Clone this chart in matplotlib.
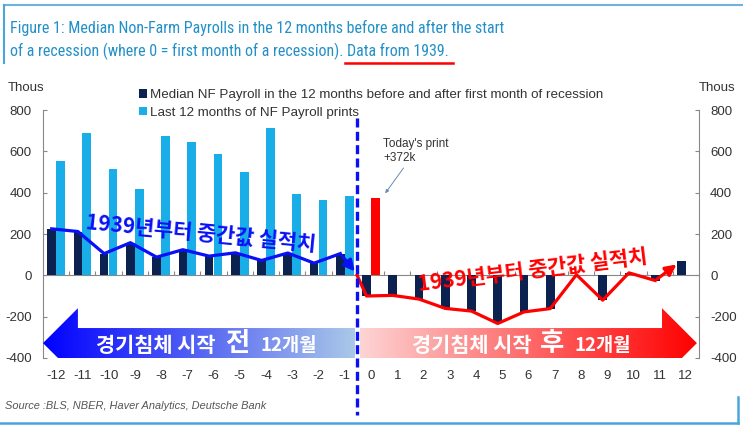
import matplotlib.pyplot as plt
import numpy as np
from matplotlib.lines import Line2D
from matplotlib.patches import Polygon
from matplotlib.colors import to_rgb

# months relative to the first month of a recession
months = np.arange(-12, 13)
# median non-farm payroll change (thousands) from 1939
median_nfp = [225, 212, 105, 158, 88, 124, 93, 109, 72, 108, 59, 105,
              -100, -97, -115, -160, -173, -233, -177, -161, 3, -120, 12, -25, 69]
# last 12 prints before "today"
last_months = np.arange(-12, 0)
last_prints = [555, 690, 515, 420, 675, 645, 588, 502, 712, 395, 366, 382]
today_month = 0
today_print = 372

navy = '#0b2150'
sky = '#19aee8'
red = '#ff0000'
blue = '#0a10f5'
grey = '#333333'

plt.rcParams['font.family'] = ['Liberation Sans', 'DejaVu Sans']
plt.rcParams['axes.unicode_minus'] = False
kr = ['Noto Sans CJK KR', 'DejaVu Sans']

fig = plt.figure(figsize=(7.43, 4.28), dpi=100)
W, H = 743, 428
ax = fig.add_axes([43 / W, 1 - 358 / H, 656 / W, 248 / H])

# bars
off, bw = 0.17, 0.33
ax.bar(months - off, median_nfp, width=bw, color=navy, zorder=3,
       label='Median NF Payroll in the 12 months before and after first month of recession')
ax.bar(last_months + off, last_prints, width=bw, color=sky, zorder=3,
       label='Last 12 months of NF Payroll prints')
ax.bar(today_month + off, today_print, width=bw, color=red, zorder=3)

ax.set_xlim(-12.5, 12.5)
ax.set_ylim(-400, 800)
ax.set_yticks(range(-400, 801, 200))

ax.spines['top'].set_visible(False)
for s in ['left', 'right', 'bottom']:
    ax.spines[s].set_color('#888888')
ax.spines['bottom'].set_position(('data', 0))
ax.set_xticks(np.arange(-11.5, 12.5, 1))
ax.tick_params(axis='x', direction='in', length=3, color='#888888', labelbottom=False)
ax.tick_params(axis='y', direction='in', length=3, color='#888888', labelsize=9.5,
               labelcolor=grey, right=True, labelright=True, pad=8)

# month labels under the axis
for m in months:
    ax.text(m, -487, str(m), ha='center', va='center', fontsize=9.5, color=grey, clip_on=False)

fig.text(8 / W, 1 - 88 / H, 'Thous', fontsize=9.5, color=grey, va='center', ha='left')
fig.text(699 / W, 1 - 88 / H, 'Thous', fontsize=9.5, color=grey, va='center', ha='left')

# hand-drawn style median lines
pre = [v for m, v in zip(months, median_nfp) if m < 0]
post = [v for m, v in zip(months, median_nfp) if m >= 0]
pre_x = months[months < 0] - off
post_x = months[months >= 0] - off
ax.plot(pre_x, pre, color=blue, lw=2.3, zorder=5)
ax.annotate('', xy=(-0.55, 8), xytext=(pre_x[-1], pre[-1]),
            arrowprops=dict(arrowstyle='-|>', color=blue, lw=2.3, mutation_scale=16), zorder=5)
ax.plot(np.r_[-0.53, post_x[:-1]], np.r_[0, post[:-1]], color=red, lw=2.3, zorder=5)
ax.annotate('', xy=(post_x[-1] - 0.1, post[-1] - 8), xytext=(post_x[-2], post[-2]),
            arrowprops=dict(arrowstyle='-|>', color=red, lw=2.3, mutation_scale=16), zorder=5)

ax.text(-6.5, 205, '1939년부터 중간값 실적치', family=kr, fontsize=15, fontweight='bold',
        color=blue, rotation=-5.5, ha='center', va='center', zorder=6,
        rotation_mode='anchor')
ax.text(6.15, 22, '1939년부터 중간값 실적치', family=kr, fontsize=15, fontweight='bold',
        color=red, rotation=7, ha='center', va='center', zorder=6,
        rotation_mode='anchor')

# today's print callout
ax.text(0.46, 602, "Today's print\n+372k", fontsize=8.5, color=grey, ha='left', va='center',
        linespacing=1.2)
ax.annotate('', xy=(0.48, 386), xytext=(1.3, 530),
            arrowprops=dict(arrowstyle='-|>', color='#6a8cb0', lw=0.7, mutation_scale=5))

# recession start marker
ax.plot([-0.53, -0.53], [760, -675], color=blue, lw=2.4, linestyle=(0, (2.7, 1.3)),
        zorder=7, clip_on=False)


def grad_arrow(pts, c0, c1, x0, x1):
    poly = Polygon(pts, closed=True, transform=ax.transData, facecolor='none', edgecolor='none')
    cols = np.array([to_rgb(c0), to_rgb(c1)])
    t = np.linspace(0, 1, 256)[:, None]
    img = (cols[0] * (1 - t) + cols[1] * t)[None, :, :]
    im = ax.imshow(img, extent=[x0, x1, -500, -155], aspect='auto', zorder=8,
                   interpolation='bilinear')
    im.set_clip_path(poly)
    im.set_clip_box(None)


yb0, yb1, yh0, yh1, ytip = -255, -405, -159, -496, -328
grad_arrow([(-12.5, ytip), (-11.17, yh0), (-11.17, yb0), (-0.61, yb0), (-0.61, yb1),
            (-11.17, yb1), (-11.17, yh1)], '#0000ff', '#aac8e8', -12.5, -0.61)
grad_arrow([(-0.42, yb0), (11.09, yb0), (11.09, yh0), (12.42, ytip), (11.09, yh1),
            (11.09, yb1), (-0.42, yb1)], '#fdd4d4', '#ff0000', -0.42, 12.42)
ax.set_xlim(-12.5, 12.5)
ax.set_ylim(-400, 800)

for x_left, x_mid, x_right, word in [(-5.94, -5.1, -4.23, '전'), (6.13, 6.9, 7.77, '후')]:
    ax.text(x_left, -338, '경기침체 시작', family=kr, fontsize=15, fontweight='bold',
            color='white', ha='right', va='center', zorder=9)
    ax.text(x_mid, -330, word, family=kr, fontsize=19, fontweight='bold',
            color='white', ha='center', va='center', zorder=9)
    ax.text(x_right, -338, '12개월', family=kr, fontsize=13.5, fontweight='bold',
            color='white', ha='left', va='center', zorder=9)

# legend
fig.legend(loc='upper left', bbox_to_anchor=(139 / W, 1 - 89 / H), frameon=False,
           fontsize=9.6, handlelength=0.6, handleheight=0.6, handletextpad=0.2,
           labelspacing=0.42, borderpad=0, borderaxespad=0, labelcolor=grey)

# title
title_c = '#2390c8'
tfont = ['Roboto Condensed', 'Archivo Narrow', 'Roboto']
fig.text(10 / W, 1 - 28 / H,
         'Figure 1: Median Non-Farm Payrolls in the 12 months before and after the start',
         family=tfont, fontsize=11.5, color=title_c, va='center', ha='left')
fig.text(10 / W, 1 - 51 / H,
         'of a recession (where 0 = first month of a recession). Data from 1939.',
         family=tfont, fontsize=11.5, color=title_c, va='center', ha='left')
fig.add_artist(Line2D([345 / W, 453 / W], [1 - 63 / H, 1 - 63 / H], color=red, lw=1.8))

fig.text(5 / W, 1 - 406 / H, 'Source :BLS, NBER, Haver Analytics, Deutsche Bank',
         fontsize=7.9, style='italic', color='#555555', va='center')

# frame lines
frame_c = '#4aa6da'
fig.add_artist(Line2D([4 / W, 1], [1 - 5 / H, 1 - 5 / H], color='#6fb3dc', lw=1.5))
fig.add_artist(Line2D([4 / W, 4 / W], [1 - 5 / H, 1 - 63 / H], color=frame_c, lw=1.5))
fig.add_artist(Line2D([0, 738 / W], [1 - 423 / H, 1 - 423 / H], color=frame_c, lw=1.8))
fig.add_artist(Line2D([738 / W, 738 / W], [1 - 397 / H, 1 - 423 / H], color=frame_c, lw=1.8))

fig.savefig('out.png', dpi=100)
